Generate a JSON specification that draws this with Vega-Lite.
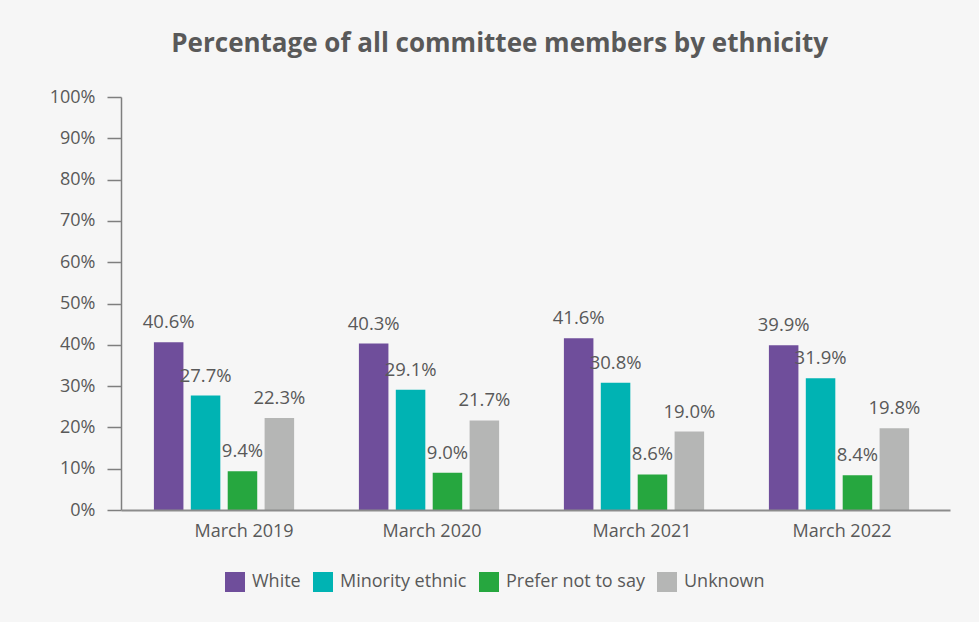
{
  "$schema": "https://vega.github.io/schema/vega-lite/v6.json",
  "width": 829,
  "height": 413,
  "autosize": {"type": "none"},
  "padding": {"left": 121, "top": 97, "right": 29, "bottom": 112},
  "background": "#f6f6f6",
  "config": {"view": {"stroke": null}, "font": "Open Sans"},
  "title": {
    "text": "Percentage of all committee members by ethnicity",
    "font": "Open Sans",
    "fontSize": 26,
    "fontWeight": "bold",
    "color": "#595959",
    "anchor": "middle",
    "frame": "bounds",
    "offset": 31
  },
  "data": {
    "values": [
      {"period": "March 2019", "group": "White", "value": 0.406},
      {"period": "March 2019", "group": "Minority ethnic", "value": 0.277},
      {"period": "March 2019", "group": "Prefer not to say", "value": 0.094},
      {"period": "March 2019", "group": "Unknown", "value": 0.223},
      {"period": "March 2020", "group": "White", "value": 0.403},
      {"period": "March 2020", "group": "Minority ethnic", "value": 0.291},
      {"period": "March 2020", "group": "Prefer not to say", "value": 0.090},
      {"period": "March 2020", "group": "Unknown", "value": 0.217},
      {"period": "March 2021", "group": "White", "value": 0.416},
      {"period": "March 2021", "group": "Minority ethnic", "value": 0.308},
      {"period": "March 2021", "group": "Prefer not to say", "value": 0.086},
      {"period": "March 2021", "group": "Unknown", "value": 0.190},
      {"period": "March 2022", "group": "White", "value": 0.399},
      {"period": "March 2022", "group": "Minority ethnic", "value": 0.319},
      {"period": "March 2022", "group": "Prefer not to say", "value": 0.084},
      {"period": "March 2022", "group": "Unknown", "value": 0.198}
    ]
  },
  "encoding": {
    "x": {
      "field": "period",
      "type": "nominal",
      "scale": {"paddingInner": 0.28, "paddingOuter": 0.162, "align": 0.44},
      "axis": {
        "title": null,
        "labelAngle": 0,
        "ticks": false,
        "domainColor": "#8c8c8c",
        "domainWidth": 2,
        "labelFont": "Open Sans",
        "labelFontSize": 18,
        "labelColor": "#595959",
        "labelPadding": 12,
        "zindex": 1,
        "labelOffset": {
          "condition": [
            {"test": "datum.label == 'March 2019'", "value": 20},
            {"test": "datum.label == 'March 2021'", "value": 8}
          ],
          "value": 3
        }
      }
    },
    "xOffset": {
      "field": "group",
      "type": "nominal",
      "sort": ["White", "Minority ethnic", "Prefer not to say", "Unknown"],
      "scale": {"paddingInner": 0.2, "paddingOuter": 0.1}
    },
    "y": {
      "field": "value",
      "type": "quantitative",
      "scale": {"domain": [0, 1]},
      "axis": {
        "title": null,
        "values": [0, 0.1, 0.2, 0.3, 0.4, 0.5, 0.6, 0.7, 0.8, 0.9, 1],
        "format": ".0%",
        "grid": false,
        "domainColor": "#7f7f7f",
        "domainWidth": 1.5,
        "tickColor": "#7f7f7f",
        "tickWidth": 1.5,
        "tickSize": 14,
        "labelFont": "Open Sans",
        "labelFontSize": 18,
        "labelColor": "#595959",
        "labelPadding": 12
      }
    }
  },
  "layer": [
    {
      "mark": {"type": "bar"},
      "encoding": {
        "color": {
          "field": "group",
          "type": "nominal",
          "scale": {
            "domain": ["White", "Minority ethnic", "Prefer not to say", "Unknown"],
            "range": ["#6f4e9b", "#00b3b3", "#26a73f", "#b5b6b5"]
          },
          "legend": {
            "orient": "none",
            "legendX": 104,
            "legendY": 475,
            "direction": "horizontal",
            "title": null,
            "symbolType": "square",
            "symbolSize": 400,
            "symbolStrokeWidth": 0,
            "symbolOpacity": 1,
            "labelFont": "Open Sans",
            "labelFontSize": 18,
            "labelColor": "#595959",
            "labelOffset": 7,
            "columnPadding": 12,
            "padding": 0
          }
        }
      }
    },
    {
      "mark": {
        "type": "text",
        "baseline": "alphabetic",
        "dy": -14,
        "font": "Open Sans",
        "fontSize": 18.5,
        "color": "#595959"
      },
      "encoding": {
        "text": {"field": "value", "type": "quantitative", "format": ".1%"}
      }
    }
  ]
}
